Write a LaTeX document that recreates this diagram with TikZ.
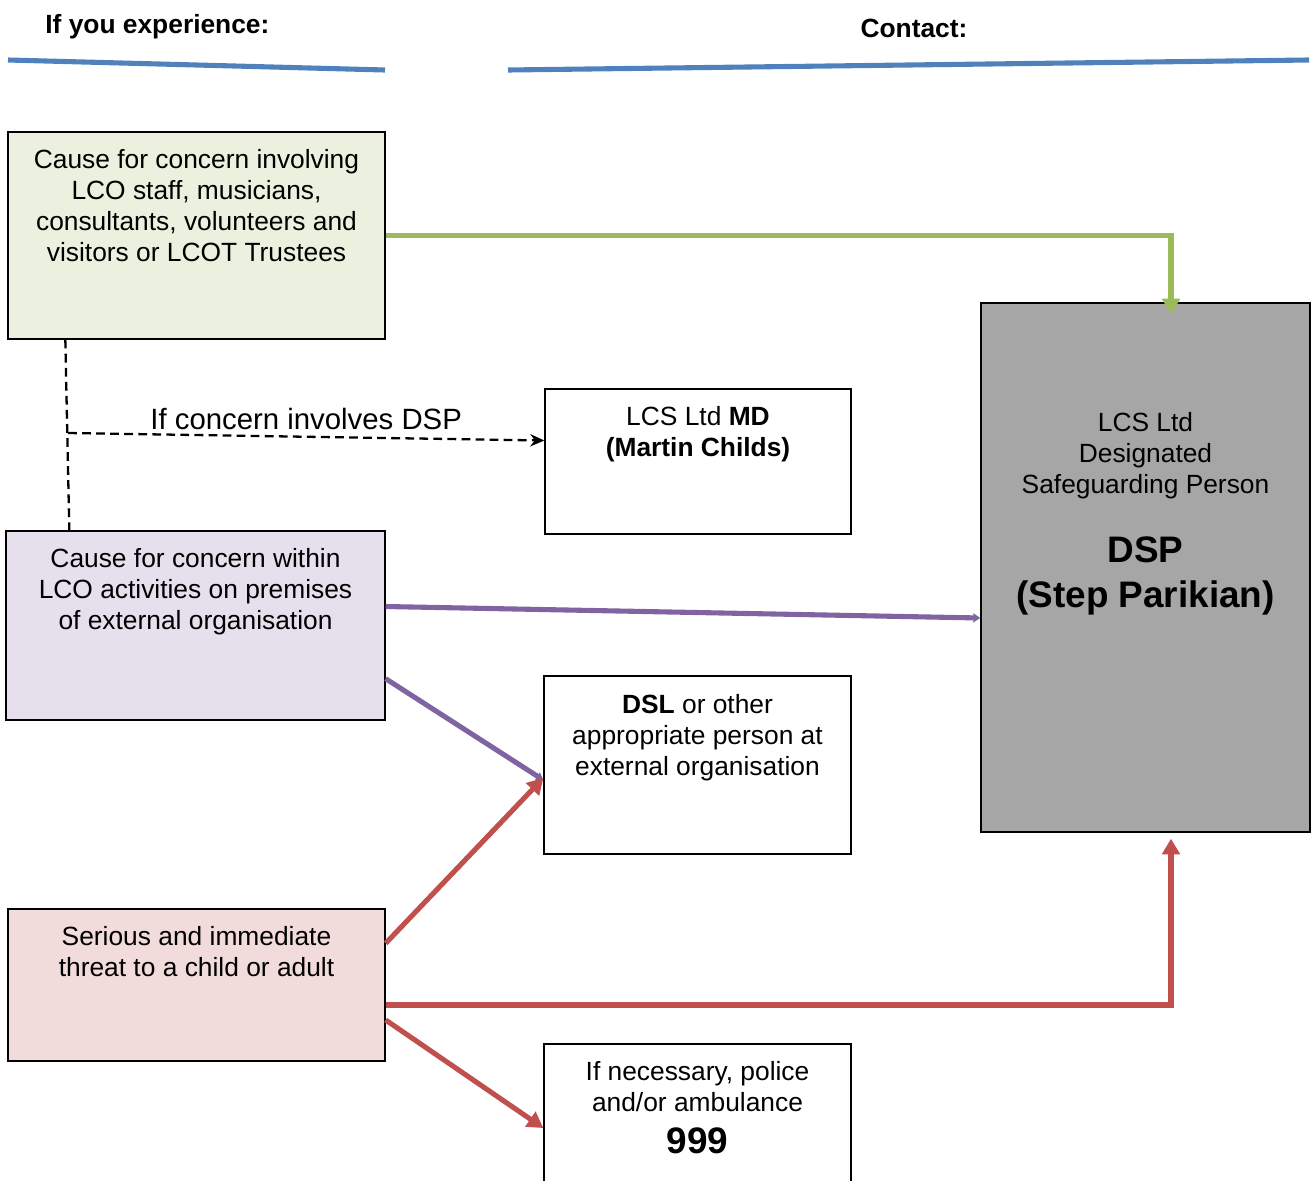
\documentclass[tikz,border=0pt]{standalone}
\usepackage{fontspec}
\setmainfont{Liberation Sans}
\usetikzlibrary{arrows.meta,positioning}

\definecolor{rulecol}{HTML}{4F81BD}
\definecolor{greenln}{HTML}{9BBB59}
\definecolor{purpleln}{HTML}{8064A2}
\definecolor{redln}{HTML}{C0504D}
\definecolor{greenfill}{HTML}{EBF1DE}
\definecolor{purplefill}{HTML}{E5E0EC}
\definecolor{redfill}{HTML}{F2DCDB}
\definecolor{dspfill}{HTML}{A6A6A6}

\tikzset{
  box/.style={draw, line width=0.8pt, inner sep=0pt},
  boxtxt/.style={font=\fontsize{15}{17.6}\selectfont, align=center, anchor=north, inner sep=0pt},
  header/.style={font=\fontsize{15}{18}\selectfont\bfseries, inner sep=0pt},
  link/.style={line width=2.9pt},
  bighead/.style={-{Triangle[length=9pt,width=10pt]}},
  smallhead/.style={-{Triangle[length=4pt,width=5pt]}},
  dashln/.style={line width=1.3pt, dash pattern=on 5pt off 3pt},
}

\begin{document}
\begin{tikzpicture}[x=0.02cm, y=-0.02cm, >=Stealth]
  \useasboundingbox (0,0) rectangle (1311,1180);

  % headings
  \node[header, anchor=west] (hexp) at (45,27) {If you experience:};
  \node[header] (hcon) at (914,28) {Contact:};
  \draw[rulecol, line width=2.9pt] (8,60) -- (385,70);
  \draw[rulecol, line width=2.9pt] (508,70) -- (1309,60);

  % left column
  \node[box, fill=greenfill, minimum width=7.54cm, minimum height=4.14cm] (staff) at (196.5,235.5) {};
  \node[boxtxt] (stafftxt) at ([yshift=-0.36cm]staff.north) {Cause for concern involving\\LCO staff, musicians,\\consultants, volunteers and\\visitors or LCOT Trustees};

  \node[box, fill=purplefill, minimum width=7.58cm, minimum height=3.78cm] (extorg) at (195.5,625.5) {};
  \node[boxtxt] (extorgtxt) at ([yshift=-0.36cm]extorg.north) {Cause for concern within\\LCO activities on premises\\of external organisation};

  \node[box, fill=redfill, minimum width=7.54cm, minimum height=3.04cm] (threat) at (196.5,985) {};
  \node[boxtxt] (threattxt) at ([yshift=-0.36cm]threat.north) {Serious and immediate\\threat to a child or adult};

  % middle column
  \node[box, minimum width=6.12cm, minimum height=2.9cm] (md) at (698,461.5) {};
  \node[boxtxt] (mdtxt) at ([yshift=-0.36cm]md.north) {LCS Ltd \textbf{MD}\\\textbf{(Martin Childs)}};

  \node[box, minimum width=6.14cm, minimum height=3.56cm] (dsl) at (697.5,765) {};
  \node[boxtxt] (dsltxt) at ([yshift=-0.38cm]dsl.north) {\textbf{DSL} or other\\appropriate person at\\external organisation};

  \node[box, minimum width=6.14cm, minimum height=3.12cm] (police) at (697.5,1122) {};
  \node[boxtxt] (policetxt) at ([yshift=-0.36cm]police.north) {If necessary, police\\and/or ambulance\\[6pt]{\fontsize{21}{22}\selectfont\bfseries 999}};

  % right column
  \node[box, fill=dspfill, minimum width=6.58cm, minimum height=10.58cm] (dsp) at (1145.5,567.5) {};
  \node[boxtxt] (dsptxt) at ([yshift=-2.19cm]dsp.north) {LCS Ltd\\Designated\\Safeguarding Person};
  \node[boxtxt, font=\fontsize{21}{25.5}\selectfont\bfseries] (dspname) at ([yshift=-4.69cm]dsp.north) {DSP\\(Step Parikian)};

  % connectors
  \draw[link, greenln, bighead, shorten >=-0.24cm] (staff.east) -| ([xshift=0.51cm]dsp.north);

  \coordinate (dtop) at ([xshift=1.16cm]staff.south west);
  \coordinate (dbot) at ([xshift=1.28cm]extorg.north west);
  \coordinate (dmid) at (68,433);
  \draw[dashln] (dtop) -- (dbot);
  \draw[dashln, -{Stealth[length=8pt,width=7pt]}] (dmid) -- node[above=0pt, font=\fontsize{16.7}{20}\selectfont] (dsplbl) {If concern involves DSP} ([yshift=0.42cm]md.west);

  \draw[link, purpleln, smallhead] ([yshift=0.38cm]extorg.east) -- ([yshift=-1.01cm]dsp.west);
  \draw[link, purpleln, smallhead] ([yshift=0.84cm]extorg.south east) -- ([yshift=-0.3cm]dsl.west);

  \draw[link, redln, bighead] ([yshift=-0.7cm]threat.north east) -- ([yshift=-0.26cm]dsl.west);
  \draw[link, redln, bighead, shorten >=0.12cm] ([yshift=-0.4cm]threat.east) -| ([xshift=0.51cm]dsp.south);
  \draw[link, redln, bighead] ([yshift=-0.7cm]threat.east) -- ([yshift=-0.12cm]police.west);
\end{tikzpicture}
\end{document}
